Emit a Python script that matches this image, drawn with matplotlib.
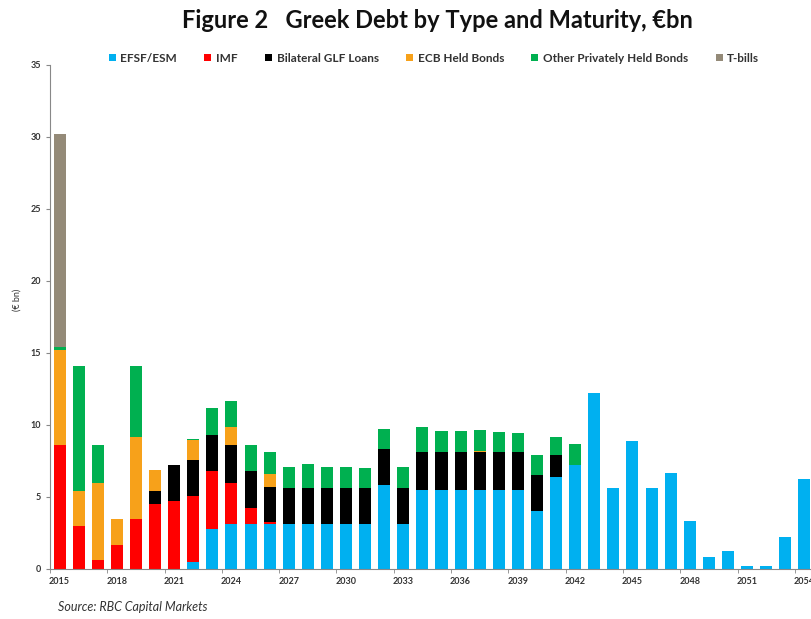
import numpy as np
import matplotlib.pyplot as plt
from matplotlib.patches import Patch

years = list(range(2015, 2055))

# values in EUR bn
efsf = [0, 0, 0, 0, 0, 0, 0, 0.5, 2.8, 3.1, 3.1, 3.1, 3.1, 3.1, 3.1, 3.1, 3.1, 5.85, 3.1,
        5.5, 5.5, 5.5, 5.5, 5.5, 5.5, 4.05, 6.4, 7.2, 12.25, 5.6, 8.9, 5.6, 6.65, 3.3,
        0.8, 1.25, 0.2, 0.2, 2.25, 6.25]
imf = [8.6, 3.0, 0.65, 1.7, 3.5, 4.5, 4.7, 4.6, 4.0, 2.9, 1.15, 0.15] + [0] * 28
glf = [0, 0, 0, 0, 0, 0.95, 2.5, 2.5, 2.5, 2.6, 2.55, 2.45, 2.5, 2.5, 2.5, 2.5, 2.5, 2.5, 2.5,
       2.6, 2.6, 2.6, 2.6, 2.6, 2.6, 2.5, 1.5] + [0] * 13
ecb = [6.6, 2.4, 5.3, 1.8, 5.7, 1.4, 0, 1.35, 0, 1.25, 0, 0.9, 0, 0, 0, 0.05, 0, 0, 0,
       0, 0, 0, 0.1, 0, 0] + [0] * 15
other = [0.2, 8.7, 2.65, 0, 4.9, 0, 0, 0.1, 1.85, 1.8, 1.8, 1.55, 1.45, 1.7, 1.5, 1.45, 1.4,
         1.4, 1.45, 1.75, 1.45, 1.5, 1.45, 1.4, 1.35, 1.4, 1.3, 1.5] + [0] * 12
tbills = [14.8] + [0] * 39

series = [("EFSF/ESM", efsf, "#00B0F0"),
          ("IMF", imf, "#FF0000"),
          ("Bilateral GLF Loans", glf, "#000000"),
          ("ECB Held Bonds", ecb, "#F7A11A"),
          ("Other Privately Held Bonds", other, "#00B050"),
          ("T-bills", tbills, "#948A78")]

plt.rcParams['font.family'] = ['Lato', 'DejaVu Sans']

fig = plt.figure(figsize=(8.12, 6.19), dpi=100)
ax = fig.add_axes([50 / 812, 50 / 619, 762 / 812, 504 / 619])

bottom = np.zeros(len(years))
for name, vals, col in series:
    ax.bar(years, vals, width=0.63, bottom=bottom, color=col, label=name)
    bottom += np.array(vals)

ax.set_xlim(2014.5, 2054.4)
ax.set_ylim(0, 35)
ax.set_yticks(range(0, 36, 5))
ax.set_xticks(years[::3])
ax.set_xticks(np.arange(2014.5, 2055, 3), minor=True)
ax.tick_params(axis='x', which='major', length=0, labelsize=6.5, colors='#333333', pad=6)
ax.tick_params(axis='x', which='minor', length=3, color='#888888')
ax.tick_params(axis='y', length=3, color='#888888', labelsize=6.5, labelcolor='#333333')
for lbl in ax.get_xticklabels() + ax.get_yticklabels():
    lbl.set_fontweight('bold')
for s in ['top', 'right']:
    ax.spines[s].set_visible(False)
for s in ['left', 'bottom']:
    ax.spines[s].set_color('#888888')
    ax.spines[s].set_linewidth(0.8)

fig.text(17 / 812, 1 - 300 / 619, "(€ bn)", rotation=90, fontsize=6.5, ha='center', va='center',
         color='#333333')

fig.text(437 / 812, 1 - 20 / 619, "Figure 2   Greek Debt by Type and Maturity, €bn",
         fontsize=17, fontweight='bold', ha='center', va='center', color='#111111')

handles = [Patch(facecolor=c, label=n) for n, v, c in series]
leg = fig.legend(handles=handles, loc='center', bbox_to_anchor=(434 / 812, 1 - 58 / 619),
                 ncol=6, frameon=False, fontsize=8.5, handlelength=0.6, handleheight=0.6,
                 handletextpad=0.4, columnspacing=2.3)
for t in leg.get_texts():
    t.set_fontweight('bold')
    t.set_color('#333333')

fig.text(58 / 812, 1 - 607 / 619, "Source: RBC Capital Markets", fontsize=9, style='italic',
         ha='left', va='center', color='#333333')

fig.savefig("out.png", dpi=100)
